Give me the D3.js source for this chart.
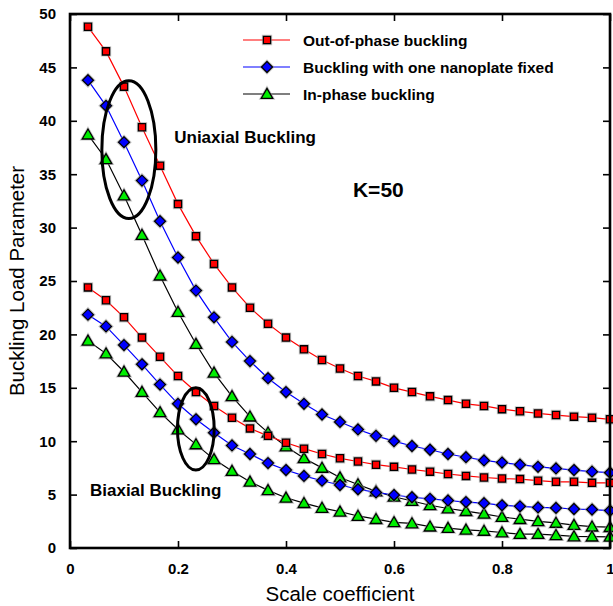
<!DOCTYPE html>
<html>
<head>
<meta charset="utf-8">
<script src="https://cdn.jsdelivr.net/npm/d3@7"></script>
<style>
  body { margin: 0; background: #fff; }
  svg { display: block; }
  text { font-family: "Liberation Sans", Arial, Helvetica, sans-serif; fill: #000; }
</style>
</head>
<body>
<svg id="chart" width="613" height="606"></svg>
<script>
// Scale coefficient (x) at which each curve was evaluated
const scaleCoef = [0.0333, 0.0667, 0.1, 0.1333, 0.1667, 0.2, 0.2333, 0.2667, 0.3, 0.3333,
                   0.3667, 0.4, 0.4333, 0.4667, 0.5, 0.5333, 0.5667, 0.6, 0.6333, 0.6667,
                   0.7, 0.7333, 0.7667, 0.8, 0.8333, 0.8667, 0.9, 0.9333, 0.9667, 1.0];

// Uniaxial buckling load parameter
const uniOutOfPhase = [48.8, 46.5, 43.2, 39.4, 35.8, 32.2, 29.2, 26.6, 24.4, 22.5,
                       21.0, 19.7, 18.6, 17.6, 16.8, 16.1, 15.6, 15.0, 14.6, 14.2,
                       13.85, 13.5, 13.3, 13.0, 12.8, 12.6, 12.45, 12.3, 12.2, 12.05];
const uniOneFixed   = [43.8, 41.4, 38.0, 34.4, 30.6, 27.2, 24.1, 21.6, 19.3, 17.5,
                       15.9, 14.6, 13.5, 12.5, 11.8, 11.1, 10.5, 10.0, 9.55, 9.2,
                       8.8, 8.5, 8.2, 8.0, 7.8, 7.6, 7.45, 7.3, 7.15, 7.05];
const uniInPhase    = [38.7, 36.4, 33.0, 29.3, 25.5, 22.1, 19.1, 16.4, 14.2, 12.3,
                       10.8, 9.5, 8.4, 7.5, 6.6, 5.95, 5.3, 4.8, 4.4, 4.0,
                       3.7, 3.45, 3.2, 2.9, 2.7, 2.5, 2.35, 2.15, 2.0, 1.95];

// Biaxial buckling load parameter
const biOutOfPhase  = [24.4, 23.2, 21.6, 19.7, 17.9, 16.1, 14.6, 13.3, 12.2, 11.2,
                       10.5, 9.86, 9.3, 8.8, 8.4, 8.1, 7.8, 7.6, 7.35, 7.15,
                       6.93, 6.75, 6.6, 6.5, 6.45, 6.3, 6.2, 6.2, 6.1, 6.1];
const biOneFixed    = [21.85, 20.75, 19.0, 17.2, 15.3, 13.5, 12.05, 10.8, 9.6, 8.8,
                       7.95, 7.3, 6.75, 6.3, 5.9, 5.5, 5.2, 4.96, 4.75, 4.6,
                       4.45, 4.3, 4.2, 4.0, 3.9, 3.8, 3.75, 3.65, 3.6, 3.5];
const biInPhase     = [19.4, 18.2, 16.5, 14.6, 12.7, 11.1, 9.7, 8.3, 7.2, 6.2,
                       5.4, 4.7, 4.2, 3.75, 3.4, 3.0, 2.7, 2.4, 2.3, 2.0,
                       1.87, 1.7, 1.6, 1.45, 1.3, 1.3, 1.2, 1.08, 1.06, 1.05];

// Axis ticks and labels
const xTicks = [0, 0.2, 0.4, 0.6, 0.8, 1];
const xTickLabels = ["0", "0.2", "0.4", "0.6", "0.8", "1"];
const yTicks = [0, 5, 10, 15, 20, 25, 30, 35, 40, 45, 50];

// Legend entries
const legendLabels = ["Out-of-phase buckling", "Buckling with one nanoplate fixed", "In-phase buckling"];

const svg = d3.select("#chart");
const margin = { top: 14, right: 3, bottom: 58, left: 70 };
const W = 613, H = 606;
const iw = W - margin.left - margin.right;
const ih = H - margin.top - margin.bottom;

const x = d3.scaleLinear().domain([0, 1]).range([0, iw]);
const y = d3.scaleLinear().domain([0, 50]).range([ih, 0]);

const g = svg.append("g").attr("transform", `translate(${margin.left},${margin.top})`);

// Square-proportioned diamond (a square turned 45 degrees)
const squareDiamond = {
  draw(context, size) {
    const r = Math.sqrt(size / 2);
    context.moveTo(0, -r);
    context.lineTo(r, 0);
    context.lineTo(0, r);
    context.lineTo(-r, 0);
    context.closePath();
  }
};

// Marker styles for each mode
const styles = [
  { line: "#ff0000", fill: "#ff0000", symbol: d3.symbolSquare,   size: 52, dy: 0 },
  { line: "#0000ff", fill: "#0000ff", symbol: squareDiamond,     size: 60, dy: 0 },
  { line: "#000000", fill: "#00ee00", symbol: d3.symbolTriangle, size: 58, dy: 1 }
];

const series = [
  { values: uniOutOfPhase, style: 0 },
  { values: uniOneFixed,   style: 1 },
  { values: uniInPhase,    style: 2 },
  { values: biOutOfPhase,  style: 0 },
  { values: biOneFixed,    style: 1 },
  { values: biInPhase,     style: 2 }
];

const line = d3.line()
  .x((d, i) => x(scaleCoef[i]))
  .y(d => y(d));

function drawMarker(sel, st) {
  sel.append("path")
    .attr("d", d3.symbol().type(st.symbol).size(st.size * 1.6))
    .attr("fill", "none")
    .attr("stroke", "#999")
    .attr("stroke-opacity", 0.55)
    .attr("stroke-width", 1.2);
  sel.append("path")
    .attr("d", d3.symbol().type(st.symbol).size(st.size))
    .attr("fill", st.fill)
    .attr("stroke", "#000")
    .attr("stroke-width", 1.3);
}

// Draw all lines first, then markers on top
series.forEach(s => {
  const st = styles[s.style];
  g.append("path")
    .datum(s.values)
    .attr("fill", "none")
    .attr("stroke", st.line)
    .attr("stroke-width", 1.2)
    .attr("d", line);
});
series.forEach(s => {
  const st = styles[s.style];
  g.append("g")
    .selectAll("g")
    .data(s.values)
    .join("g")
    .attr("transform", (d, i) => `translate(${x(scaleCoef[i])},${y(d) + st.dy})`)
    .each(function () { drawMarker(d3.select(this), st); });
});

// Ellipses grouping the uniaxial and biaxial curves
const ellipses = [
  { cx: 0.109, cy: 37.3, rx: 0.05, ry: 6.45 },
  { cx: 0.233, cy: 11.15, rx: 0.034, ry: 3.85 }
];
g.selectAll("ellipse.group")
  .data(ellipses)
  .join("ellipse")
  .attr("class", "group")
  .attr("cx", d => x(d.cx))
  .attr("cy", d => y(d.cy))
  .attr("rx", d => x(d.rx) - x(0))
  .attr("ry", d => y(0) - y(d.ry))
  .attr("fill", "none")
  .attr("stroke", "#000")
  .attr("stroke-width", 3);

// Annotations
g.append("text").attr("x", x(0.193)).attr("y", y(37.9))
  .attr("font-size", 17).attr("font-weight", "bold").text("Uniaxial Buckling");
g.append("text").attr("x", x(0.524)).attr("y", y(32.9))
  .attr("font-size", 21).attr("font-weight", "bold").text("K=50");
g.append("text").attr("x", x(0.037)).attr("y", y(4.85))
  .attr("font-size", 17).attr("font-weight", "bold").text("Biaxial Buckling");

// Legend
const legend = g.append("g");
legendLabels.forEach((lab, i) => {
  const st = styles[i];
  const ly = 26 + i * 27;
  const row = legend.append("g").attr("transform", `translate(173,${ly})`);
  row.append("line").attr("x1", 0).attr("x2", 47).attr("y1", 0).attr("y2", 0)
    .attr("stroke", st.line).attr("stroke-width", 1.2);
  const m = row.append("g").attr("transform", `translate(24,${st.dy})`);
  drawMarker(m, st);
  row.append("text").attr("x", 60).attr("y", 5.5)
    .attr("font-size", 15.5).attr("font-weight", "bold").text(lab);
});

// Axes: ticks inside on all four sides
const tickLen = 7;
const axBottom = d3.axisBottom(x).tickValues(xTicks).tickSizeInner(-tickLen).tickSizeOuter(0)
  .tickPadding(tickLen + 8).tickFormat((d, i) => xTickLabels[i]);
const axLeft = d3.axisLeft(y).tickValues(yTicks).tickSizeInner(-tickLen).tickSizeOuter(0)
  .tickPadding(tickLen + 7).tickFormat(d3.format("d"));
const axTop = d3.axisTop(x).tickValues(xTicks).tickSizeInner(-tickLen).tickSizeOuter(0).tickFormat("");
const axRight = d3.axisRight(y).tickValues(yTicks).tickSizeInner(-tickLen).tickSizeOuter(0).tickFormat("");

function styleAxis(sel) {
  sel.select(".domain").remove();
  sel.selectAll(".tick line").attr("stroke", "#000").attr("stroke-width", 1.6);
  sel.selectAll(".tick text")
    .style("font-family", "'Liberation Sans', Arial, sans-serif")
    .attr("font-size", 15).attr("font-weight", "bold").attr("fill", "#000");
}
g.append("g").attr("transform", `translate(0,${ih})`).call(axBottom).call(styleAxis);
g.append("g").call(axLeft).call(styleAxis);
g.append("g").call(axTop).call(styleAxis);
g.append("g").attr("transform", `translate(${iw},0)`).call(axRight).call(styleAxis);

// Frame
g.append("rect").attr("x", 0).attr("y", 0).attr("width", iw).attr("height", ih)
  .attr("fill", "none").attr("stroke", "#000").attr("stroke-width", 2.6);

// Axis titles
svg.append("text")
  .attr("transform", `translate(24,${margin.top + ih / 2}) rotate(-90)`)
  .attr("text-anchor", "middle").attr("font-size", 20.5).text("Buckling Load Parameter");
svg.append("text")
  .attr("x", margin.left + iw / 2).attr("y", 601)
  .attr("text-anchor", "middle").attr("font-size", 20.5).text("Scale coefficient");
</script>
</body>
</html>
